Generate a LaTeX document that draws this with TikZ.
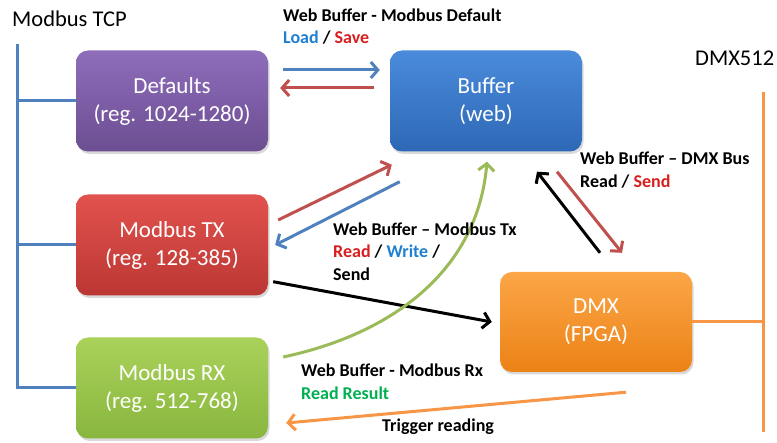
\documentclass[tikz,border=0pt]{standalone}
\usepackage{fontspec}
\setmainfont{Carlito}
\usetikzlibrary{arrows.meta,shadows}
\definecolor{busblue}{HTML}{4F81BD}
\definecolor{busorange}{HTML}{F79646}
\definecolor{arrred}{HTML}{C0504D}
\definecolor{arrgreen}{HTML}{9BBB59}
\definecolor{txtblue}{HTML}{1F7FD0}
\definecolor{txtred}{HTML}{D81E1E}
\definecolor{txtgreen}{HTML}{00B050}
\definecolor{defT}{HTML}{8E6DBA}\definecolor{defB}{HTML}{6C4E92}
\definecolor{bufT}{HTML}{4A8BDB}\definecolor{bufB}{HTML}{2D68B5}
\definecolor{txT}{HTML}{E2524E}\definecolor{txB}{HTML}{BB3733}
\definecolor{dmxT}{HTML}{FBA647}\definecolor{dmxB}{HTML}{EC8216}
\definecolor{rxT}{HTML}{AAD25B}\definecolor{rxB}{HTML}{88B63E}
\begin{document}
\begin{tikzpicture}[x=1pt,y=-1pt,
  box/.style={rounded corners=12pt, minimum width=192pt, minimum height=101pt,
    text=white, align=center, font=\fontsize{23}{28}\selectfont,
    drop shadow={shadow xshift=1.5pt,shadow yshift=-2.5pt,opacity=0.3}},
  arr/.style={line width=3pt, -{Straight Barb[length=7pt,width=16pt]}},
  bus/.style={line width=3pt},
  lbl/.style={inner sep=0pt, anchor=west, align=left, font=\bfseries\fontsize{18}{22.5}\selectfont},
  title/.style={inner sep=0pt, anchor=west, font=\fontsize{22.5}{26}\selectfont}]
\useasboundingbox (0,0) rectangle (777,443);

% boxes
\node[box, top color=defT, bottom color=defB] (def) at (172,101) {Defaults\\(reg. 1024-1280)};
\node[box, top color=bufT, bottom color=bufB] (buf) at (486,101) {Buffer\\(web)};
\node[box, top color=txT, bottom color=txB] (tx) at (172,245) {Modbus TX\\(reg. 128-385)};
\node[box, top color=dmxT, bottom color=dmxB, minimum height=100pt] (dmx) at (596,322) {DMX\\(FPGA)};
\node[box, top color=rxT, bottom color=rxB] (rx) at (172,388) {Modbus RX\\(reg. 512-768)};

% titles
\node[title] (tcp) at (12,19) {Modbus TCP};
\node[title] (dmxt) at (695,58) {DMX512};

% Modbus TCP bus
\coordinate (bustop) at (17,44);
\coordinate (dmxtop) at (763,92);
\coordinate (dmxbot) at (763,432);
\draw[bus, busblue] (bustop) |- (rx.west);
\draw[bus, busblue] (def.west -| bustop) -- (def.west);
\draw[bus, busblue] (tx.west -| bustop) -- (tx.west);

% DMX512 bus
\draw[bus, busorange] (dmxtop) -- (dmxbot);
\draw[bus, busorange] (dmx.east) -- (dmx.east -| dmxtop);

% Defaults <-> Buffer
\draw[arr, busblue] ([xshift=15pt,yshift=31pt]def.east) -- ([xshift=-10pt,yshift=31pt]buf.west);
\draw[arr, arrred] ([xshift=-16pt,yshift=13pt]buf.west) -- ([xshift=12pt,yshift=13pt]def.east);

% TX <-> Buffer
\draw[arr, arrred] ([xshift=10pt,yshift=25pt]tx.east) -- ([xshift=2pt,yshift=-13pt]buf.south west);
\draw[arr, busblue] ([xshift=10pt,yshift=-30pt]buf.south west) -- ([xshift=7pt,yshift=0pt]tx.east);

% TX -> DMX
\draw[arr, black] ([xshift=5pt,yshift=14pt]tx.south east) -- ([xshift=-8pt]dmx.west);

% DMX <-> Buffer
\draw[arr, black] ([xshift=4pt,yshift=19pt]dmx.north) -- ([xshift=51pt,yshift=-20pt]buf.south);
\draw[arr, arrred] ([xshift=71pt,yshift=-20pt]buf.south) -- ([xshift=26pt,yshift=19pt]dmx.north);

% RX -> Buffer (curved)
\draw[arr, arrgreen] ([xshift=15pt,yshift=31pt]rx.east) to[out=12,in=-95] ([xshift=1pt,yshift=-10pt]buf.south);

% DMX -> RX trigger
\draw[arr, busorange] ([xshift=30pt,yshift=-20pt]dmx.south) -- ([xshift=18pt,yshift=-35pt]rx.east);

% labels
\node[lbl] (l1) at (283,26.5) {Web Buffer - Modbus Default\\{\color{txtblue}Load} / {\color{txtred}Save}};
\node[lbl] (l2) at (333,251.5) {Web Buffer -- Modbus Tx\\{\color{txtred}Read} / {\color{txtblue}Write} /\\Send};
\node[lbl] (l3) at (580,170) {Web Buffer -- DMX Bus\\Read / {\color{txtred}Send}};
\node[lbl] (l4) at (301,381.5) {Web Buffer - Modbus Rx\\{\color{txtgreen}Read Result}};
\node[lbl] (l5) at (382,427) {Trigger reading};
\end{tikzpicture}
\end{document}
